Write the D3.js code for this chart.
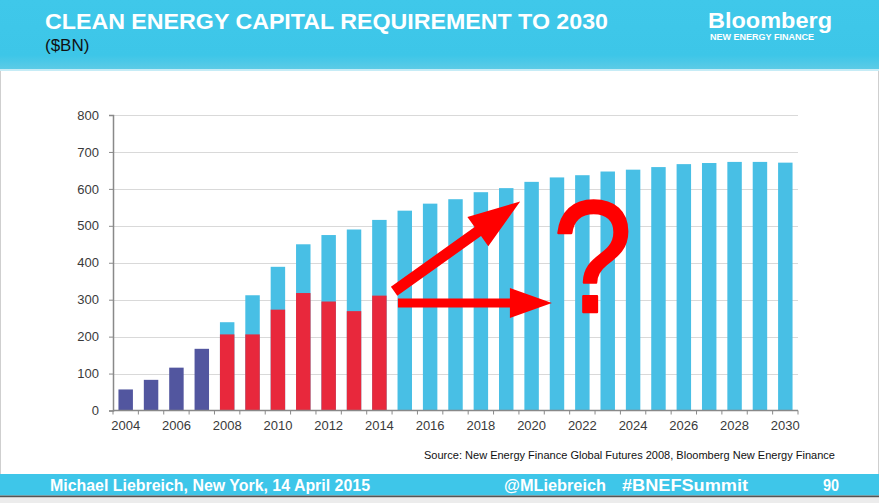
<!DOCTYPE html>
<html lang="en">
<head>
    <meta charset="UTF-8">
    <title>Clean energy capital requirement to 2030</title>
    <script src="https://d3js.org/d3.v7.min.js"></script>
</head>
<style>
    html,body {
        margin: 0;
        padding: 0;
        background: #fff;
    }
    text { font-family: "Liberation Sans", Arial, sans-serif; }
</style>
<body>
    <div id="svg"></div>
</body>
<script>
    // categories
    const years = [2004, 2005, 2006, 2007, 2008, 2009, 2010, 2011, 2012, 2013, 2014, 2015, 2016, 2017,
        2018, 2019, 2020, 2021, 2022, 2023, 2024, 2025, 2026, 2027, 2028, 2029, 2030];
    // actual investment before the 2008 forecast ($bn)
    const historicYears = [2004, 2005, 2006, 2007];
    const historic = [57, 83, 116, 167];
    // actual investment after the forecast was made
    const actualYears = [2008, 2009, 2010, 2011, 2012, 2013, 2014];
    const actual = [206, 206, 273, 318, 295, 269, 311];
    // Global Futures 2008 requirement, 2008-2030
    const forecastYears = years.slice(4);
    const forecast = [239, 312, 389, 450, 475, 490, 516, 541, 560, 572, 591, 602, 619, 631,
        637, 647, 652, 659, 667, 670, 673, 673, 671];
    const yTicks = [0, 100, 200, 300, 400, 500, 600, 700, 800];
    const xLabels = years.filter(y => y % 2 === 0);

    const width = 879;
    const height = 503;
    const plot = {left: 113, right: 798, top: 115, bottom: 410.5};
    const cyan = '#3ec6e9';

    const svg = d3.select('#svg').append('svg')
        .attr('width', width)
        .attr('height', height);

    // header band
    const grad = svg.append('defs').append('linearGradient')
        .attr('id', 'hdr').attr('x1', 0).attr('x2', 0).attr('y1', 0).attr('y2', 1);
    grad.append('stop').attr('offset', '0%').attr('stop-color', '#3fc8ea');
    grad.append('stop').attr('offset', '80%').attr('stop-color', '#3dc6e8');
    grad.append('stop').attr('offset', '100%').attr('stop-color', '#5ccbe6');
    svg.append('rect').attr('x', 0).attr('y', 0).attr('width', width).attr('height', 69).attr('fill', 'url(#hdr)');
    svg.append('rect').attr('x', 0).attr('y', 69).attr('width', width).attr('height', 2).attr('fill', '#c6ecf6');

    svg.append('text').attr('x', 45).attr('y', 29)
        .attr('font-size', 22).attr('font-weight', 'bold').attr('fill', '#fff')
        .attr('textLength', 563).attr('lengthAdjust', 'spacingAndGlyphs')
        .text('CLEAN ENERGY CAPITAL REQUIREMENT TO 2030');
    svg.append('text').attr('x', 45).attr('y', 51)
        .attr('font-size', 17).attr('fill', '#111')
        .text('($BN)');
    svg.append('text').attr('x', 708).attr('y', 28)
        .attr('font-size', 22).attr('font-weight', 'bold').attr('fill', '#fff')
        .attr('textLength', 124).attr('lengthAdjust', 'spacingAndGlyphs')
        .text('Bloomberg');
    svg.append('text').attr('x', 710).attr('y', 39.5)
        .attr('font-size', 8.5).attr('font-weight', 'bold').attr('fill', '#fff')
        .attr('textLength', 104).attr('lengthAdjust', 'spacingAndGlyphs')
        .text('NEW ENERGY FINANCE');

    // scales
    const x = d3.scaleBand().domain(years).range([plot.left, plot.right]).paddingInner(0.43).paddingOuter(0.215);
    const y = d3.scaleLinear().domain([0, 800]).range([plot.bottom, plot.top]);
    const step = x.step();
    const xc = d3.scaleLinear().domain([years[0], years[years.length - 1]])
        .range([x(years[0]) + x.bandwidth() / 2, x(years[years.length - 1]) + x.bandwidth() / 2]);

    // gridlines
    svg.append('g').selectAll('line').data(yTicks.slice(1)).enter().append('line')
        .attr('x1', plot.left).attr('x2', plot.right)
        .attr('y1', d => Math.round(y(d)) + 0.5).attr('y2', d => Math.round(y(d)) + 0.5)
        .attr('stroke', '#d9d9d9');

    // bars
    const bars = svg.append('g');
    bars.selectAll('.hist').data(historic).enter().append('rect')
        .attr('x', (d, i) => x(historicYears[i]))
        .attr('width', x.bandwidth())
        .attr('y', d => y(d))
        .attr('height', d => y(0) - y(d))
        .attr('fill', '#52569f');
    bars.selectAll('.fc').data(forecast).enter().append('rect')
        .attr('x', (d, i) => x(forecastYears[i]))
        .attr('width', x.bandwidth())
        .attr('y', d => y(d))
        .attr('height', d => y(0) - y(d))
        .attr('fill', '#48bfe5');
    bars.selectAll('.act').data(actual).enter().append('rect')
        .attr('x', (d, i) => x(actualYears[i]))
        .attr('width', x.bandwidth())
        .attr('y', d => y(d))
        .attr('height', d => y(0) - y(d))
        .attr('fill', '#e8283c');

    // y axis
    const gY = svg.append('g').attr('transform', `translate(${plot.left}, 0)`)
        .call(d3.axisLeft(y).tickValues(yTicks).tickSize(4).tickPadding(10));
    gY.select('.domain').attr('stroke', '#898989').attr('stroke-width', 1.5);
    gY.selectAll('.tick line').attr('stroke', '#898989');
    gY.selectAll('.tick text').attr('font-size', 13).attr('fill', '#3a3a3a')
        .attr('font-family', '"Liberation Sans", Arial, sans-serif');

    // x axis: ticks on band edges, labels every other year
    const edges = years.map(yr => x(yr) - step * x.paddingInner() / 2).concat([plot.right]);
    const gX = svg.append('g');
    gX.append('line').attr('x1', plot.left).attr('x2', plot.right)
        .attr('y1', y(0)).attr('y2', y(0)).attr('stroke', '#898989').attr('stroke-width', 1.5);
    gX.selectAll('.edge').data(edges).enter().append('line')
        .attr('x1', d => d).attr('x2', d => d)
        .attr('y1', y(0)).attr('y2', y(0) + 4)
        .attr('stroke', '#898989');
    gX.selectAll('.lbl').data(xLabels).enter().append('text')
        .attr('x', d => x(d) + x.bandwidth() / 2)
        .attr('y', y(0) + 19)
        .attr('text-anchor', 'middle')
        .attr('font-size', 13).attr('fill', '#3a3a3a')
        .text(d => d);

    // red annotations
    const arrow = (x0, y0, x1, y1, w, hw, hl) => {
        const dx = x1 - x0, dy = y1 - y0, len = Math.hypot(dx, dy);
        const ux = dx / len, uy = dy / len, nx = -uy, ny = ux;
        const bx = x1 - ux * hl, by = y1 - uy * hl;
        return [
            [x0 + nx * w / 2, y0 + ny * w / 2], [bx + nx * w / 2, by + ny * w / 2],
            [bx + nx * hw / 2, by + ny * hw / 2], [x1, y1],
            [bx - nx * hw / 2, by - ny * hw / 2], [bx - nx * w / 2, by - ny * w / 2],
            [x0 - nx * w / 2, y0 - ny * w / 2]
        ].map(p => p.join(',')).join(' ');
    };
    svg.append('polygon')
        .attr('points', arrow(xc(2014.58), y(323), xc(2019.55), y(566), 11, 36, 52))
        .attr('fill', '#ff0000');
    svg.append('polygon')
        .attr('points', arrow(xc(2014.73), y(291), xc(2020.8), y(291), 9, 30, 42))
        .attr('fill', '#ff0000');
    svg.append('text')
        .attr('transform', `translate(${xc(2022.4)}, ${y(268)}) scale(0.9, 1)`)
        .attr('text-anchor', 'middle')
        .attr('font-size', 160).attr('fill', '#ff0000')
        .attr('stroke', '#ff0000').attr('stroke-width', 2.5).attr('stroke-linejoin', 'round')
        .text('?');

    svg.append('text').attr('x', 835).attr('y', 459)
        .attr('text-anchor', 'end')
        .attr('font-size', 11).attr('fill', '#111')
        .attr('textLength', 411).attr('lengthAdjust', 'spacingAndGlyphs')
        .text('Source: New Energy Finance Global Futures 2008, Bloomberg New Energy Finance');

    // side borders
    svg.append('line').attr('x1', 0.5).attr('x2', 0.5).attr('y1', 71).attr('y2', 474).attr('stroke', '#cfcfcf');
    svg.append('line').attr('x1', 878.5).attr('x2', 878.5).attr('y1', 71).attr('y2', 474).attr('stroke', '#cfcfcf');

    // footer band
    svg.append('rect').attr('x', 0).attr('y', 474).attr('width', width).attr('height', 21.5).attr('fill', cyan);
    svg.append('rect').attr('x', 0).attr('y', 495.5).attr('width', width).attr('height', 2).attr('fill', '#555');
    svg.append('rect').attr('x', 0).attr('y', 497.5).attr('width', width).attr('height', 6).attr('fill', '#ececec');
    const footer = [
        {t: 'Michael Liebreich, New York, 14 April 2015', x: 50, w: 320},
        {t: '@MLiebreich', x: 504, w: 102},
        {t: '#BNEFSummit', x: 622, w: 126},
        {t: '90', x: 823, w: 16}
    ];
    svg.append('g').selectAll('text').data(footer).enter().append('text')
        .attr('x', d => d.x).attr('y', 490.5)
        .attr('font-size', 16).attr('font-weight', 'bold').attr('fill', '#fff')
        .attr('textLength', d => d.w).attr('lengthAdjust', 'spacingAndGlyphs')
        .text(d => d.t);
</script>
</html>
